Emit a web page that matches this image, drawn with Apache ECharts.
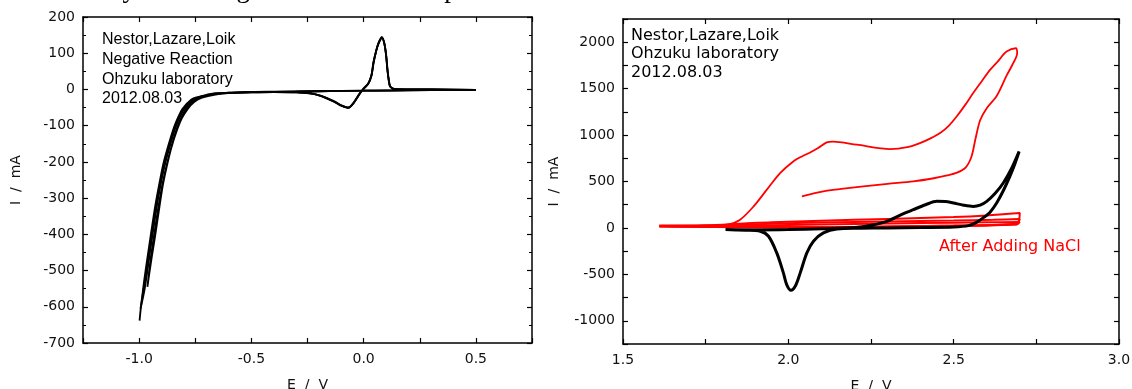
<!DOCTYPE html>
<html>
<head>
<meta charset="utf-8">
<script src="https://cdn.jsdelivr.net/npm/echarts@6/dist/echarts.min.js"></script>
<style>
html, body { margin: 0; padding: 0; background: #fff; }
#chart { width: 1132px; height: 389px; }
</style>
</head>
<body>
<div id="chart"></div>
<script>
// left panel: negative reaction, 3 cycles, [E (V), I (mA)]
var negCycleA = [[0.5,-1],[0.35,-2],[0.2,-2],[0.05,-3],[-0.1,-4],[-0.25,-5],[-0.4,-6],[-0.52,-7],[-0.6,-9],[-0.64,-10],[-0.68,-12],[-0.72,-18],[-0.76,-25],[-0.78,-35],[-0.8,-50],[-0.82,-72],[-0.84,-100],[-0.865,-150],[-0.888,-200],[-0.905,-250],[-0.92,-300],[-0.932,-350],[-0.944,-400],[-0.955,-450],[-0.966,-500],[-0.98,-550],[-0.992,-600],[-0.998,-638],
  [-0.99,-590],[-0.978,-530],[-0.962,-460],[-0.95,-410],[-0.938,-360],[-0.925,-310],[-0.91,-260],[-0.892,-205],[-0.87,-155],[-0.845,-105],[-0.825,-75],[-0.805,-52],[-0.77,-30],[-0.73,-20],[-0.68,-13],[-0.62,-10],[-0.5,-7],[-0.4,-6],[-0.3,-7],[-0.24,-10],[-0.195,-17],[-0.135,-33],[-0.1,-44],[-0.068,-51],[-0.046,-38],[-0.016,-10],[0,3],[0.021,17],[0.035,40],[0.043,73],[0.055,105],[0.066,128],[0.081,145],[0.092,128],[0.1,95],[0.106,54],[0.112,25],[0.118,8],[0.14,1],[0.3,0],[0.5,-1]];
var negCycleB = [[0.5,-2],[0.3,-2],[0.1,-3],[-0.1,-4],[-0.3,-6],[-0.5,-7],[-0.6,-9],[-0.63,-10],[-0.67,-12],[-0.71,-18],[-0.75,-25],[-0.775,-36],[-0.795,-50],[-0.815,-72],[-0.835,-100],[-0.86,-150],[-0.882,-200],[-0.9,-250],[-0.915,-300],[-0.928,-350],[-0.94,-400],[-0.952,-450],[-0.963,-500],[-0.975,-550],[-0.988,-590],[-0.994,-605],
  [-0.982,-560],[-0.97,-510],[-0.958,-460],[-0.946,-410],[-0.933,-360],[-0.92,-310],[-0.905,-260],[-0.888,-210],[-0.867,-160],[-0.842,-110],[-0.82,-78],[-0.8,-55],[-0.765,-32],[-0.725,-21],[-0.67,-13],[-0.6,-10],[-0.5,-8],[-0.4,-7],[-0.3,-8],[-0.24,-11],[-0.19,-18],[-0.13,-34],[-0.1,-45],[-0.07,-50],[-0.048,-40],[-0.018,-12],[0,2],[0.02,15],[0.035,38],[0.045,75],[0.056,106],[0.067,127],[0.082,142],[0.093,125],[0.101,92],[0.107,52],[0.113,24],[0.12,7],[0.14,1],[0.3,0],[0.5,-1]];
var negCycleC = [[0.5,-1],[0.3,-2],[0.1,-3],[-0.1,-4],[-0.3,-6],[-0.5,-8],[-0.6,-10],[-0.65,-12],[-0.7,-18],[-0.74,-25],[-0.77,-37],[-0.79,-52],[-0.81,-75],[-0.83,-104],[-0.855,-155],[-0.876,-205],[-0.894,-255],[-0.909,-305],[-0.922,-355],[-0.934,-405],[-0.946,-455],[-0.956,-505],[-0.963,-545],
  [-0.955,-510],[-0.943,-460],[-0.93,-410],[-0.918,-360],[-0.906,-310],[-0.893,-260],[-0.876,-210],[-0.856,-160],[-0.83,-110],[-0.81,-80],[-0.785,-55],[-0.755,-35],[-0.72,-23],[-0.66,-14],[-0.6,-10],[-0.5,-8],[-0.4,-7],[-0.3,-8],[-0.24,-11],[-0.19,-18],[-0.13,-33],[-0.1,-44],[-0.068,-50],[-0.046,-39],[-0.016,-11],[0,2],[0.021,16],[0.035,39],[0.044,74],[0.055,104],[0.066,127],[0.081,143],[0.092,127],[0.1,94],[0.106,53],[0.112,24],[0.118,8],[0.14,1],[0.3,0],[0.5,-1]];

// right panel: before (black) and after adding NaCl (red)
var posBlack = [[1.81,-18],[1.9,-22],[2.0,-18],[2.1,-8],[2.2,4],[2.25,28],[2.298,71],[2.34,140],[2.378,197],[2.415,250],[2.449,286],[2.475,285],[2.499,269],[2.53,245],[2.559,232],[2.58,245],[2.6,286],[2.625,370],[2.65,484],[2.675,640],[2.698,824],
  [2.685,690],[2.67,555],[2.65,400],[2.63,269],[2.61,170],[2.589,108],[2.569,60],[2.545,25],[2.5,10],[2.4,4],[2.3,0],[2.217,-4],[2.147,-11],[2.106,-54],[2.076,-143],[2.056,-269],[2.036,-484],[2.022,-620],[2.008,-672],[1.995,-610],[1.985,-484],[1.965,-269],[1.94,-90],[1.915,-36],[1.87,-25],[1.81,-20]];
var posRedBig = [[1.75,22],[1.814,35],[1.854,89],[1.895,232],[1.935,412],[1.975,591],[2.015,716],[2.041,770],[2.066,813],[2.09,860],[2.116,921],[2.135,930],[2.207,896],[2.308,849],[2.36,870],[2.398,914],[2.43,965],[2.459,1022],[2.485,1100],[2.509,1200],[2.535,1325],[2.559,1452],[2.585,1580],[2.61,1702],[2.635,1800],[2.66,1899],[2.688,1935],[2.692,1882],
  [2.678,1760],[2.66,1640],[2.63,1420],[2.6,1290],[2.58,1160],[2.566,960],[2.554,770],[2.536,650],[2.51,595],[2.48,565],[2.44,535],[2.378,501],[2.3,475],[2.227,447],[2.16,420],[2.106,394],[2.041,340]];
var posRedCycle1 = [[1.61,25],[1.75,30],[1.85,45],[1.95,62],[2.1,78],[2.3,97],[2.5,118],[2.6,135],[2.7,160],[2.69,45],[2.5,25],[2.2,10],[1.9,6],[1.61,15]];
var posRedCycle2 = [[1.61,20],[1.8,28],[1.95,45],[2.1,58],[2.3,70],[2.5,80],[2.62,88],[2.7,97],[2.69,40],[2.4,20],[2.1,8],[1.8,10],[1.61,18]];
var posRedCycle3 = [[1.61,15],[1.85,22],[2.0,32],[2.2,42],[2.4,52],[2.6,60],[2.7,64],[2.69,38],[2.4,18],[2.0,6],[1.8,12],[1.61,22]];

var leftNotes = ['Nestor,Lazare,Loik', 'Negative Reaction', 'Ohzuku laboratory', '2012.08.03'];
var rightNotes = ['Nestor,Lazare,Loik', 'Ohzuku laboratory', '2012.08.03'];
var redNote = 'After Adding NaCl';
var pageText = 'vary the voltage and see how it operates.';

var frame = { onZero: false, lineStyle: { color: '#000', width: 1.5 } };
var tickIn = { show: true, inside: true, length: 5, lineStyle: { color: '#000', width: 1.2 } };

function halfStep(v) { return Math.round(v * 100) % 50 === 0 ? v.toFixed(1) : ''; }

function mkAxis(grid, pos, min, max, interval, labelOpt, extra) {
  var ax = {
    type: 'value', gridIndex: grid, position: pos, min: min, max: max, interval: interval,
    axisLine: frame, axisTick: tickIn, splitLine: { show: false },
    axisLabel: labelOpt || { show: false }
  };
  for (var k in extra) ax[k] = extra[k];
  return ax;
}

var leftLab = { color: '#111', fontFamily: 'DejaVu Sans', fontSize: 14, margin: 8 };
var rightLab = { color: '#111', fontFamily: 'DejaVu Sans', fontSize: 14, margin: 8 };
var nameStyle = { color: '#111', fontFamily: 'DejaVu Sans', fontSize: 14 };
var minor = { show: true, splitNumber: 2, length: 3, lineStyle: { color: '#000' } };

function line(data, x, y, color, w) {
  return { type: 'line', xAxisIndex: x, yAxisIndex: y, data: data, showSymbol: false, smooth: 0.3,
    lineStyle: { color: color, width: w }, silent: true };
}

var chart = echarts.init(document.getElementById('chart'));
chart.setOption({
  animation: false,
  grid: [
    { left: 83, top: 17, width: 449, height: 326, outerBoundsMode: 'none', containLabel: false },
    { left: 623, top: 19, width: 496, height: 325, outerBoundsMode: 'none', containLabel: false }
  ],
  xAxis: [
    mkAxis(0, 'bottom', -1.25, 0.75, 0.25,
      Object.assign({}, leftLab, { formatter: halfStep, margin: 9 }),
      { name: 'E  /  V', nameLocation: 'middle', nameGap: 35, nameTextStyle: nameStyle }),
    mkAxis(0, 'top', -1.25, 0.75, 0.25, null, {}),
    mkAxis(1, 'bottom', 1.5, 3.0, 0.25,
      Object.assign({}, rightLab, { formatter: halfStep, margin: 9 }),
      { name: 'E  /  V', nameLocation: 'middle', nameGap: 35, nameTextStyle: nameStyle }),
    mkAxis(1, 'top', 1.5, 3.0, 0.25, null, {})
  ],
  yAxis: [
    mkAxis(0, 'left', -700, 200, 100, leftLab,
      { name: 'I  /  mA', nameLocation: 'middle', nameGap: 60, nameTextStyle: nameStyle, minorTick: minor }),
    mkAxis(0, 'right', -700, 200, 100, null, { minorTick: minor }),
    mkAxis(1, 'left', -1250, 2250, 250,
      Object.assign({}, rightLab, { formatter: function (v) { return v % 500 === 0 ? String(v) : ''; } }),
      { name: 'I  /  mA', nameLocation: 'middle', nameGap: 62, nameTextStyle: nameStyle }),
    mkAxis(1, 'right', -1250, 2250, 250, null, {})
  ],
  series: [
    line(negCycleA, 0, 0, '#000', 1.8),
    line(negCycleB, 0, 0, '#000', 1.8),
    line(negCycleC, 0, 0, '#000', 1.8),
    line(posRedCycle1, 2, 2, '#ff0000', 2),
    line(posRedCycle2, 2, 2, '#ff0000', 2),
    line(posRedCycle3, 2, 2, '#ff0000', 2),
    line(posBlack, 2, 2, '#000', 3),
    line(posRedBig, 2, 2, '#ff0000', 1.8)
  ],
  graphic: [
    { type: 'text', left: 88, top: -24, silent: true,
      style: { text: pageText, font: '27px "Liberation Serif"', fill: '#000' } },
    { type: 'text', x: 102, y: 30, silent: true,
      style: { text: leftNotes.join('\n'), font: '16px "Liberation Sans"', lineHeight: 19.7, fill: '#000' } },
    { type: 'text', x: 631, y: 26, silent: true,
      style: { text: rightNotes.join('\n'), font: '16px "DejaVu Sans"', lineHeight: 18.8, fill: '#000' } },
    { type: 'text', x: 939, y: 239, silent: true,
      style: { text: redNote, font: '16px "DejaVu Sans"', fill: '#ff0000' } }
  ]
});
</script>
</body>
</html>
